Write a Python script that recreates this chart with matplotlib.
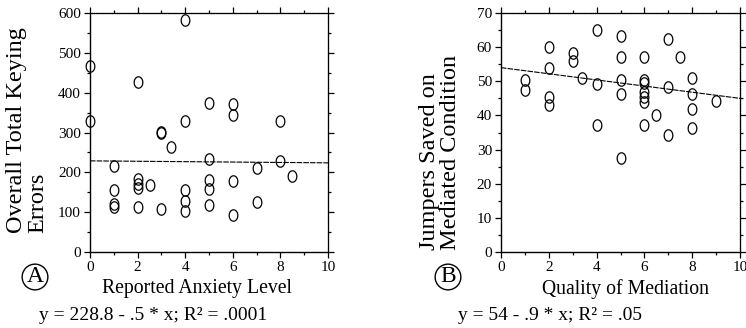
import numpy as np
import matplotlib
matplotlib.use("Agg")
import matplotlib.pyplot as plt
from matplotlib.path import Path
from matplotlib.ticker import MultipleLocator

plt.rcParams['font.family'] = ['Liberation Serif', 'DejaVu Serif']

# Panel A: reported anxiety vs. total keying errors
anxiety = [0, 0, 1, 1, 1, 1, 2, 2, 2, 2, 2, 2.5, 3, 3, 3, 3.4, 4, 4, 4, 4, 4,
           5, 5, 5, 5, 5, 6, 6, 6, 6, 7, 7, 8, 8, 8.5]
keying_errors = [466, 330, 217, 155, 121, 113, 426, 183, 171, 160, 113, 168,
                 302, 299, 109, 263, 583, 330, 156, 127, 104,
                 374, 234, 181, 159, 117, 371, 343, 179, 92, 212, 126, 330, 229, 192]
fit_a = (228.8, -0.5)

# Panel B: quality of mediation vs. jumpers saved
mediation = [1, 1, 2, 2, 2, 2, 3, 3, 3.4, 4, 4, 4, 5, 5, 5, 5, 5,
             6, 6, 6, 6, 6, 6, 6, 6.5, 7, 7, 7, 7.5, 8, 8, 8, 8, 9]
jumpers = [50.4, 47.4, 60, 54, 45.5, 43, 58.3, 56, 51, 65, 49.2, 37.3,
           63.3, 57, 50.3, 46.3, 27.4,
           57, 50.3, 49.4, 47, 45.3, 44, 37.2, 40, 62.3, 48.2, 34.3, 57,
           51, 46.3, 42, 36.2, 44.3]
fit_b = (54, -0.9)

# open ellipse marker, taller than wide
t = np.linspace(0, 2 * np.pi, 60)
ellipse = Path(np.column_stack([0.76 * np.cos(t), np.sin(t)]), closed=True)

fig = plt.figure(figsize=(7.46, 3.28), dpi=100)
W, H = 746, 328


def axes_px(left, top, right, bottom):
    return fig.add_axes([left / W, 1 - bottom / H, (right - left) / W, (bottom - top) / H])


def style(ax, ymax, ymajor, yminor):
    ax.set_xlim(0, 10)
    ax.set_ylim(0, ymax)
    ax.xaxis.set_major_locator(MultipleLocator(2))
    ax.xaxis.set_minor_locator(MultipleLocator(1))
    ax.yaxis.set_major_locator(MultipleLocator(ymajor))
    ax.yaxis.set_minor_locator(MultipleLocator(yminor))
    ax.tick_params(which='both', direction='out', top=True, right=True,
                   labelsize=11, width=0.9, pad=2)
    ax.tick_params(which='major', length=4.5)
    ax.tick_params(which='minor', length=2.5)
    for s in ('left', 'bottom'):
        ax.spines[s].set_linewidth(1.0)
    for s in ('top', 'right'):
        ax.spines[s].set_linewidth(0.9)
        ax.spines[s].set_linestyle((0, (1.2, 0.6)))


axA = axes_px(90, 13, 328, 252)
axB = axes_px(501, 13, 740, 252)
style(axA, 600, 100, 50)
style(axB, 70, 10, 5)

for ax, xs, ys, fit in ((axA, anxiety, keying_errors, fit_a),
                        (axB, mediation, jumpers, fit_b)):
    ax.plot(xs, ys, linestyle='none', marker=ellipse, markersize=8.2,
            markerfacecolor='none', markeredgecolor='black', markeredgewidth=0.9,
            clip_on=False, zorder=3)
    xl = np.array([0, 10])
    ax.plot(xl, fit[0] + fit[1] * xl, color='black', linewidth=0.8,
            linestyle=(0, (5, 1)), zorder=2)

# axis titles
fig.text(27 / W, 1 - 233 / H, "Overall Total Keying\nErrors", rotation=90,
         ha='center', va='bottom', multialignment='left', fontsize=17.5,
         linespacing=1.0)
fig.text(440.5 / W, 1 - 250 / H, "Jumpers Saved on\nMediated Condition", rotation=90,
         ha='center', va='bottom', multialignment='left', fontsize=17.5,
         linespacing=1.0)
fig.text(197 / W, 1 - 289 / H, "Reported Anxiety Level", ha='center', va='center',
         fontsize=14.2)
fig.text(625 / W, 1 - 289 / H, "Quality of Mediation", ha='center', va='center',
         fontsize=14.2)

# panel letters
for x, letter in ((35, "A"), (448, "B")):
    fig.text(x / W, 1 - 277 / H, letter, ha='center', va='center', fontsize=17,
             bbox=dict(boxstyle='circle,pad=0.1', facecolor='none',
                       edgecolor='black', linewidth=1.0))

# regression equations
fig.text(153 / W, 1 - 315 / H, "y = 228.8 - .5 * x; R² = .0001",
         ha='center', va='center', fontsize=14)
fig.text(550 / W, 1 - 315 / H, "y = 54 - .9 * x; R² = .05",
         ha='center', va='center', fontsize=14)

fig.savefig("out.png", dpi=100)
